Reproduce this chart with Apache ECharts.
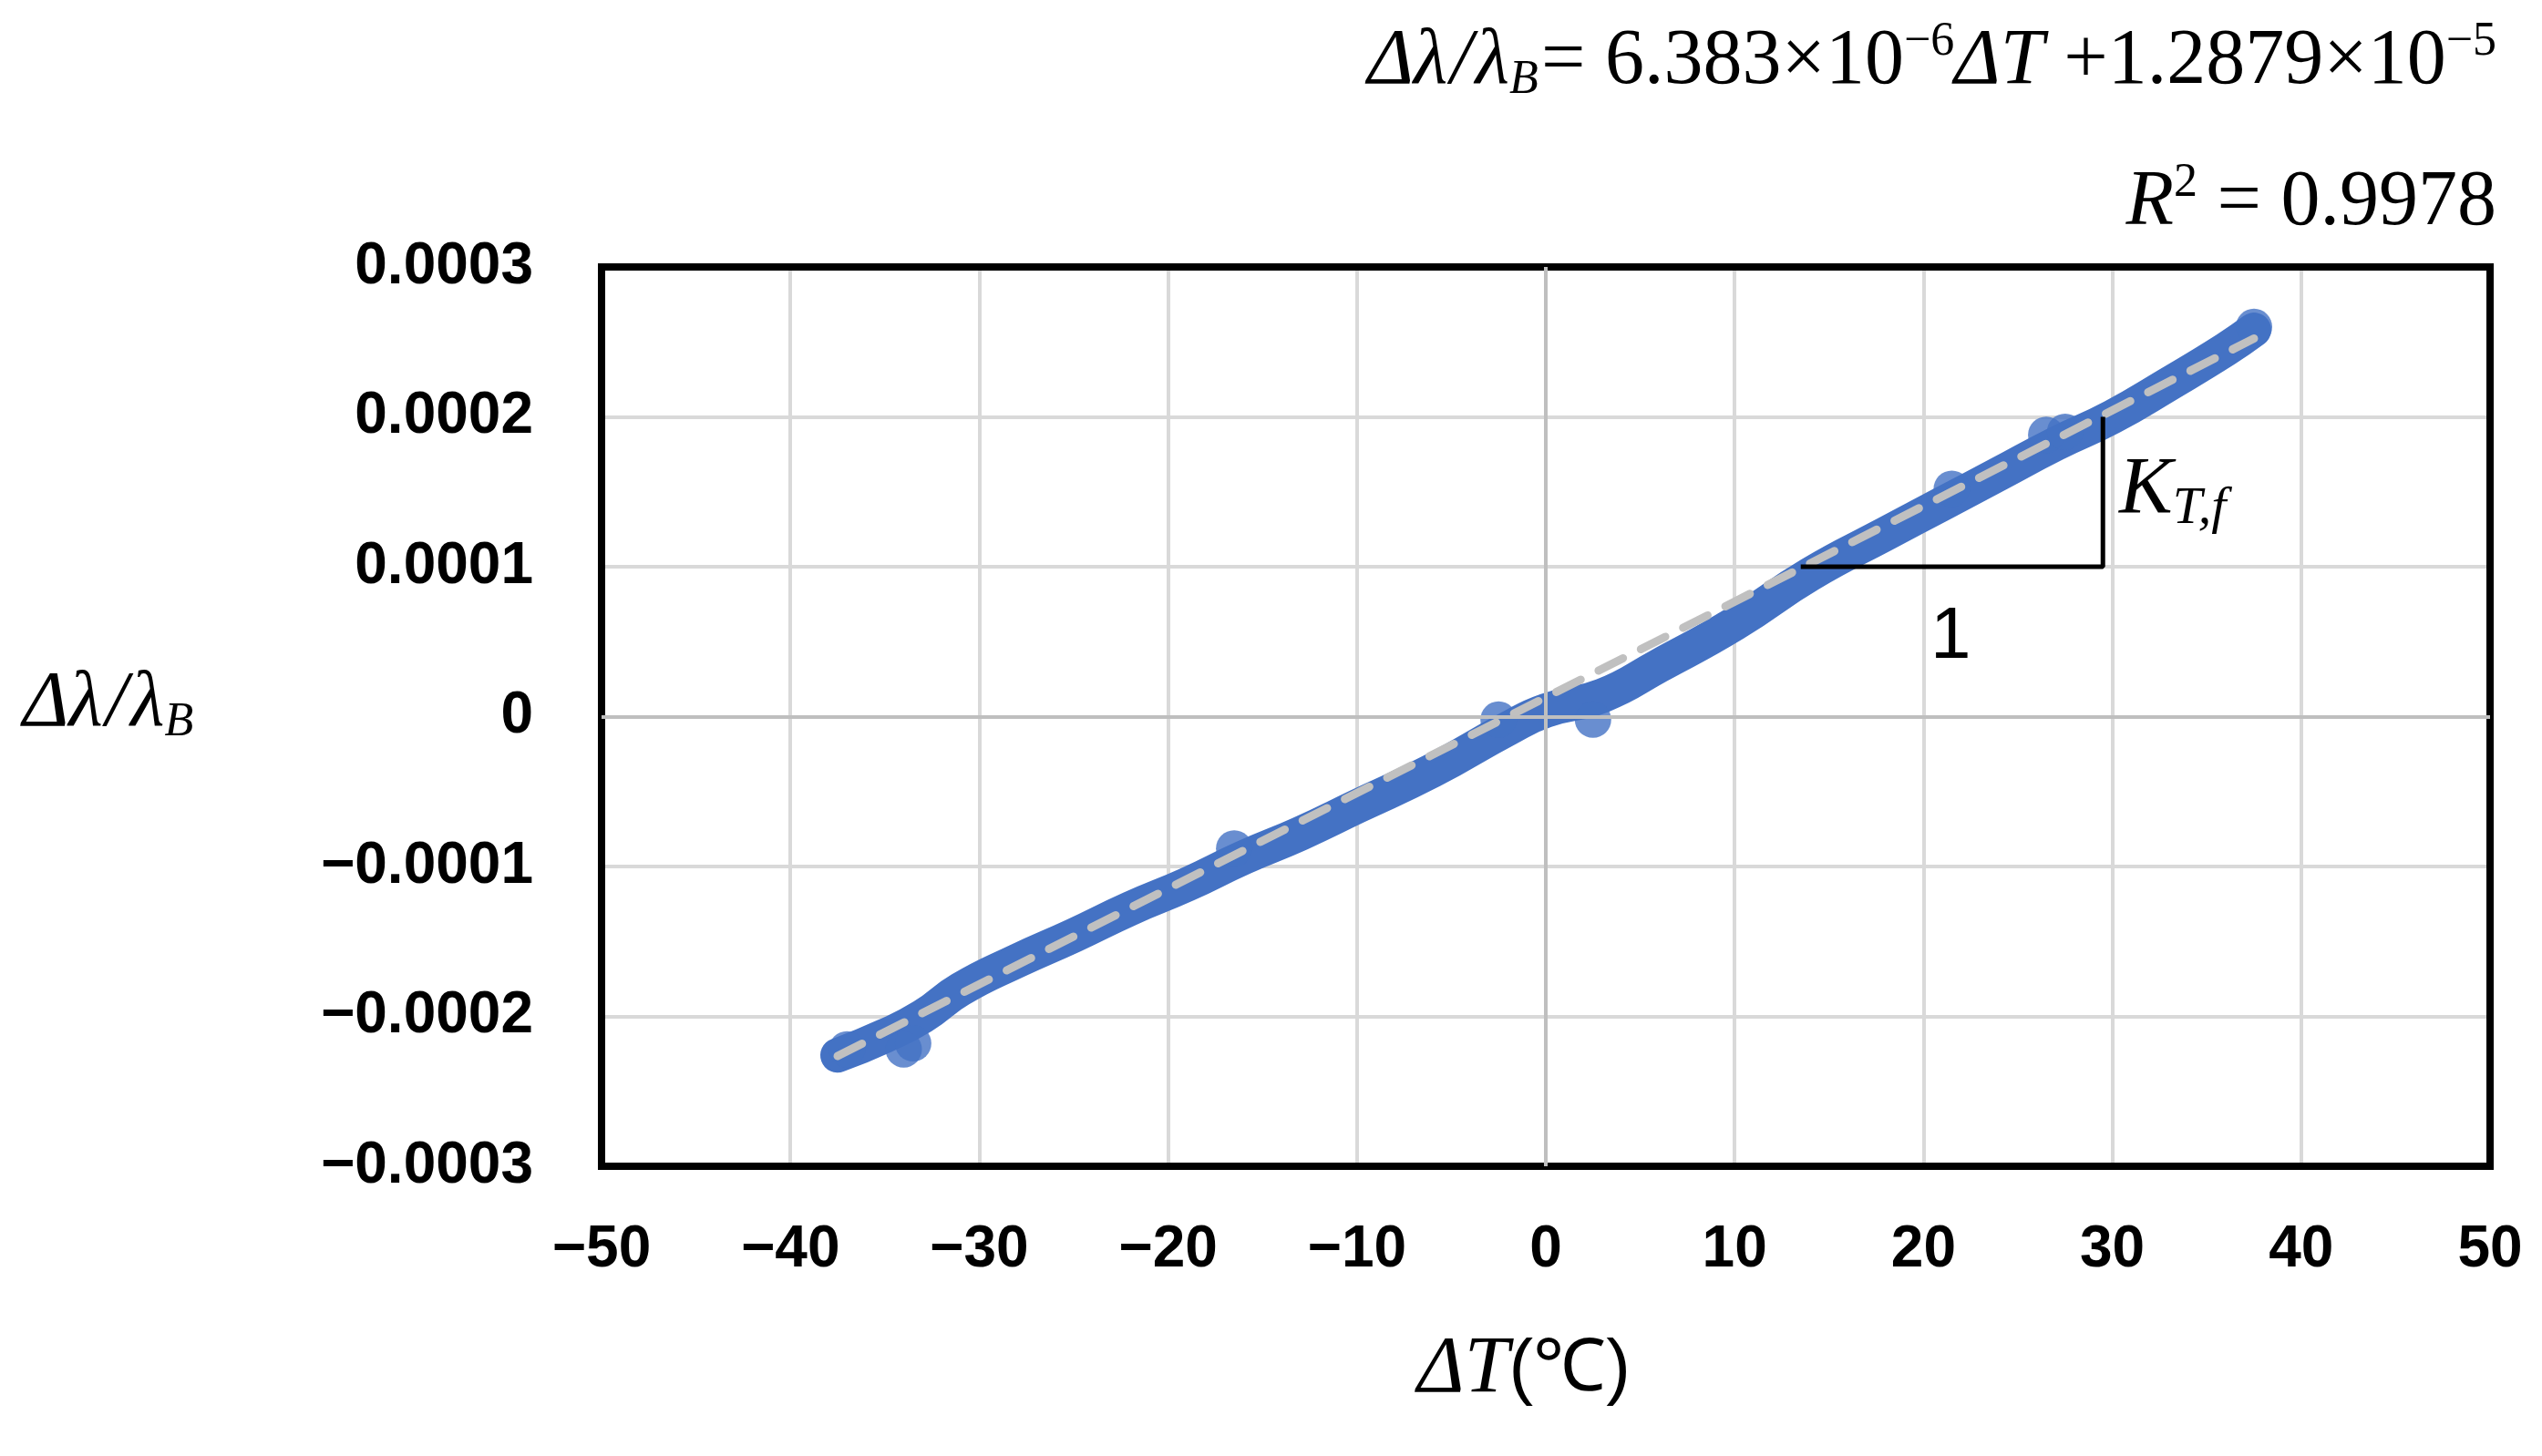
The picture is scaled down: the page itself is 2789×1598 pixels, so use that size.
<!DOCTYPE html>
<html lang="en">
<head>
    <meta charset="UTF-8">
    <title>eCharts</title>
    <script src="https://cdn.jsdelivr.net/npm/echarts@6.0.0/dist/echarts.min.js"></script>
</head>
<body style="margin:0">
    <div id="main" style="width: 2789px;height:1598px;"></div>
    <script type="text/javascript">
        // measured points (ΔT, Δλ/λB) along the band
        let bandPoints = [
            [-37.5, -0.000226], [-35, -0.000213], [-33, -0.000200], [-31, -0.000182],
            [-28, -0.000163], [-25, -0.000146], [-22, -0.000128], [-19, -0.000112],
            [-16, -0.000094], [-13, -0.000078], [-10, -0.000060], [-6, -0.000036],
            [-2, -0.000008], [0, 0.000004], [3, 0.000014], [6, 0.000034],
            [10, 0.000062], [14, 0.000095], [18, 0.000122], [21, 0.000142],
            [24, 0.000162], [27, 0.000182], [30, 0.000200], [33, 0.000222],
            [36, 0.000245], [37.5, 0.000258]
        ];
        // bumps off the band
        let bumpPoints = [
            [-34, -0.000222], [-33.5, -0.000218], [-16.5, -0.000088], [-2.5, -0.000002],
            [2.5, -0.000002], [21.5, 0.000152], [26.5, 0.000188], [27.5, 0.000190],
            [37.5, 0.000260], [-37, -0.000222]
        ];
        let slope = 6.383e-6;
        let intercept = 1.2879e-5;
        let fitRange = [-37.5, 37.5];
        let trianglePoints = [[13.5, 0.0001], [29.5, 0.0001], [29.5, 0.0002]];

        let blue = '#4472c4';
        let myChart = echarts.init(document.getElementById('main'));
        let serif = 'Liberation Serif';

        let options = {
            animation: false,
            grid: {
                left: 660, right: 57, top: 293, bottom: 318,
                show: true, borderColor: '#000', borderWidth: 8, z: 5
            },
            xAxis: {
                type: 'value', min: -50, max: 50, interval: 10,
                axisLine: { show: false }, axisTick: { show: false },
                splitLine: { lineStyle: { color: '#d9d9d9', width: 4 } },
                axisLabel: {
                    margin: 60, fontSize: 64, fontWeight: 'bold', color: '#000',
                    fontFamily: 'Liberation Sans',
                    formatter: v => (v < 0 ? '\u2212' + (-v) : '' + v)
                }
            },
            yAxis: {
                type: 'value', min: -0.0003, max: 0.0003, interval: 0.0001,
                axisLine: { show: false }, axisTick: { show: false },
                splitLine: { lineStyle: { color: '#d9d9d9', width: 4 } },
                axisLabel: {
                    margin: 75, fontSize: 64, fontWeight: 'bold', color: '#000',
                    fontFamily: 'Liberation Sans',
                    formatter: v => {
                        let s = Math.abs(v) < 1e-12 ? '0' : Math.abs(v).toFixed(4);
                        return v < -1e-12 ? '\u2212' + s : s;
                    }
                }
            },
            series: [
                {
                    type: 'line', data: bandPoints, showSymbol: false, smooth: true,
                    lineStyle: { color: blue, width: 38, cap: 'round', join: 'round' },
                    markLine: {
                        silent: true, symbol: 'none', label: { show: false },
                        lineStyle: { color: '#bfbfbf', width: 4, type: 'solid' },
                        data: [{ yAxis: 0 }, { xAxis: 0 }]
                    },
                    z: 2
                },
                {
                    type: 'scatter', data: bumpPoints, symbolSize: 40,
                    itemStyle: { color: blue }, z: 2
                },
                {
                    type: 'line', showSymbol: false,
                    data: fitRange.map(x => [x, slope * x + intercept]),
                    lineStyle: { color: '#c0c0c0', width: 9, type: [30, 22], cap: 'round' },
                    z: 3
                },
                {
                    type: 'line', showSymbol: false, data: trianglePoints,
                    lineStyle: { color: '#000', width: 5 }, z: 4
                }
            ],
            graphic: [
                {
                    type: 'text', right: 50, top: 20,
                    style: {
                        text: '{i|Δλ} {i|/} {i|λ}{sub|B} {n|= 6.383×10}{sup|−6}{i|ΔT}{n| +1.2879×10}{sup|−5}',
                        rich: {
                            i: { fontFamily: serif, fontStyle: 'italic', fontSize: 86, fill: '#000' },
                            n: { fontFamily: serif, fontSize: 86, fill: '#000' },
                            sub: { fontFamily: serif, fontStyle: 'italic', fontSize: 52, fill: '#000', padding: [40, 0, 0, 0] },
                            sup: { fontFamily: serif, fontSize: 52, fill: '#000', padding: [0, 0, 44, 0] }
                        }
                    }
                },
                {
                    type: 'text', right: 50, top: 175,
                    style: {
                        text: '{i|R}{sup|2}{n| = 0.9978}',
                        rich: {
                            i: { fontFamily: serif, fontStyle: 'italic', fontSize: 86, fill: '#000' },
                            n: { fontFamily: serif, fontSize: 86, fill: '#000' },
                            sup: { fontFamily: serif, fontSize: 52, fill: '#000', padding: [0, 0, 44, 0] }
                        }
                    }
                },
                {
                    type: 'text', left: 25, top: 730,
                    style: {
                        text: '{i|Δλ} {i|/} {i|λ}{sub|B}',
                        rich: {
                            i: { fontFamily: serif, fontStyle: 'italic', fontSize: 86, fill: '#000' },
                            sub: { fontFamily: serif, fontStyle: 'italic', fontSize: 52, fill: '#000', padding: [40, 0, 0, 0] }
                        }
                    }
                },
                {
                    type: 'text', left: 1555, top: 1460,
                    style: {
                        text: '{i|ΔT}{n|(℃)}',
                        rich: {
                            i: { fontFamily: serif, fontStyle: 'italic', fontSize: 88, fill: '#000' },
                            n: { fontFamily: 'Liberation Sans', fontSize: 80, fill: '#000' }
                        }
                    }
                },
                {
                    type: 'text', left: 2325, top: 495,
                    style: {
                        text: '{i|K}{sub|T,f}',
                        rich: {
                            i: { fontFamily: serif, fontStyle: 'italic', fontSize: 88, fill: '#000' },
                            sub: { fontFamily: serif, fontStyle: 'italic', fontSize: 58, fill: '#000', padding: [40, 0, 0, 0] }
                        }
                    }
                },
                {
                    type: 'text', left: 2118, top: 660,
                    style: { text: '1', fontFamily: 'Liberation Sans', fontSize: 80, fill: '#000' }
                }
            ]
        };
        myChart.setOption(options);
    </script>
</body>
</html>
